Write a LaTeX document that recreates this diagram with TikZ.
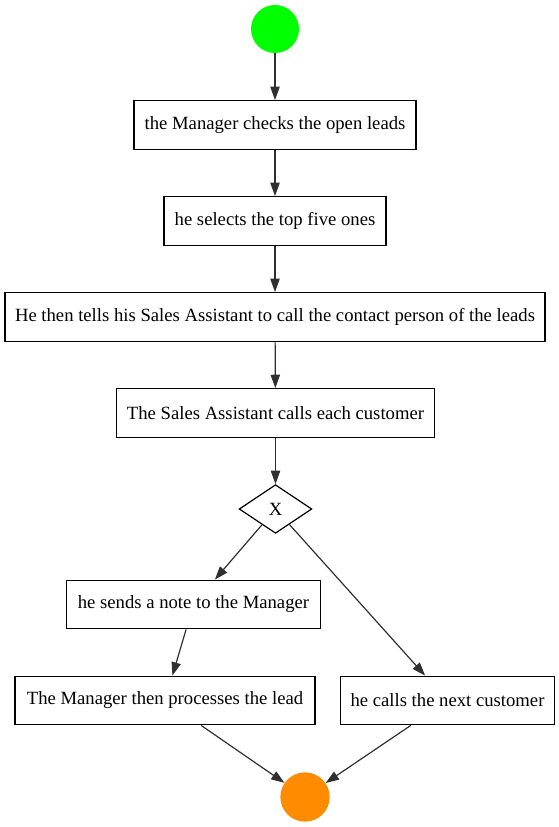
\documentclass[tikz,border=0pt]{standalone}
\usepackage{fontspec}
\setmainfont{Liberation Serif}
\usetikzlibrary{shapes.geometric,arrows.meta}
\definecolor{startgreen}{HTML}{00FF00}
\definecolor{endorange}{HTML}{FF8C00}
\definecolor{edgegray}{HTML}{303030}
\begin{document}
\begin{tikzpicture}[x=0.75pt,y=-0.75pt,
  every node/.style={font=\fontsize{14}{16}\selectfont},
  stepbox/.style={draw=black,line width=0.9pt,rectangle,inner sep=0pt,minimum height=36.5pt},
  gate/.style={draw=black,line width=0.9pt,diamond,inner sep=0pt,minimum width=54.5pt,minimum height=36.5pt},
  startev/.style={circle,fill=startgreen,draw=none,minimum size=36pt,inner sep=0pt},
  endev/.style={circle,fill=endorange,draw=none,minimum size=37pt,inner sep=0pt},
  flow/.style={draw=edgegray,line width=0.9pt,-{Triangle[length=10pt,width=7pt]}}
]
\useasboundingbox (0,0) rectangle (559,827);
\node[startev] (s) at (275,29) {};
\node[stepbox,minimum width=211.5pt] (b1) at (275,125) {the Manager checks the open leads};
\node[stepbox,minimum width=166.5pt] (b2) at (275,221) {he selects the top five ones};
\node[stepbox,minimum width=405pt] (b3) at (275,317) {He then tells his Sales Assistant to call the contact person of the leads};
\node[stepbox,minimum width=239pt] (b4) at (275.5,413) {The Sales Assistant calls each customer};
\node[gate] (g) at (275.5,509) {X};
\node[stepbox,minimum width=190pt] (b5) at (193.5,604.5) {he sends a note to the Manager};
\node[stepbox,minimum width=225pt] (b6) at (165,700.5) {The Manager then processes the lead};
\node[stepbox,minimum width=161pt] (b7) at (447.5,700.5) {he calls the next customer};
\node[endev] (e) at (305,797) {};
\draw[flow] (s) -- (b1);
\draw[flow] (b1) -- (b2);
\draw[flow] (b2) -- (b3);
\draw[flow] (b3) -- (b4);
\draw[flow] (b4) -- (g);
\draw[flow] (g) -- (b5);
\draw[flow] (g) -- (b7);
\draw[flow] (b5) -- (b6);
\draw[flow] (b6) -- (e);
\draw[flow] (b7) -- (e);
\end{tikzpicture}
\end{document}
